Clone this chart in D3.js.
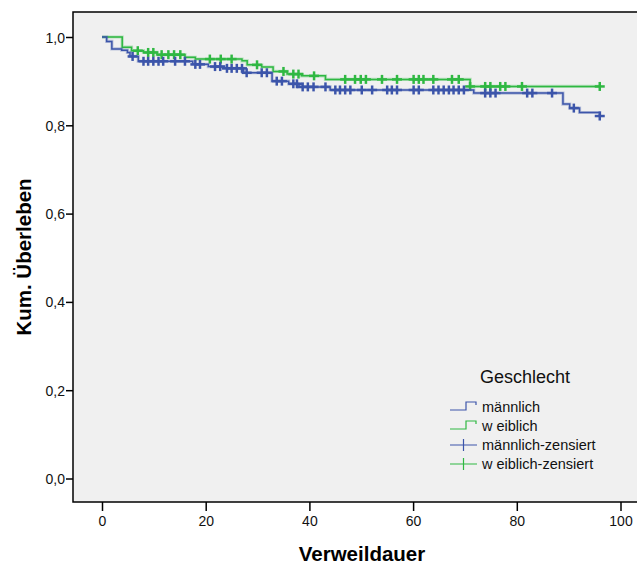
<!DOCTYPE html>
<html>
<head>
<meta charset="utf-8">
<script src="https://cdn.jsdelivr.net/npm/d3@7"></script>
<style>
  body { margin: 0; background: #fff; }
  svg { display: block; font-family: "Liberation Sans", Arial, sans-serif; }
</style>
</head>
<body>
<div id="chart"></div>
<script>
var svgWidth = 637;
var svgHeight = 565;

// Kaplan-Meier steps: time of drop and survival after drop
var maleTimes = [0.9, 1.9, 3.8, 4.9, 5.4, 7.0, 17.5, 20.5, 23.5, 27.3, 32.8, 36.0, 38.0, 44.0, 71.7, 88.9, 90.2, 92.1, 96.0];
var maleSurv  = [0.990, 0.973, 0.970, 0.965, 0.956, 0.945, 0.938, 0.933, 0.929, 0.919, 0.900, 0.894, 0.887, 0.880, 0.873, 0.848, 0.839, 0.829, 0.821];
var maleEnd = 96;
var maleCensored = [5.9, 8.0, 8.9, 9.9, 10.9, 11.8, 14.1, 16.0, 18.0, 18.9, 21.8, 22.8, 24.1, 25.0, 26.0, 27.0,
  27.9, 30.8, 31.8, 33.7, 34.7, 36.9, 37.6, 38.7, 39.7, 40.8, 43.1, 45.0, 45.9, 46.9, 47.9, 50.1, 52.1,
  55.0, 55.9, 56.9, 60.1, 61.1, 63.9, 64.9, 65.9, 66.9, 67.8, 68.8, 69.8, 73.9, 74.9, 75.9, 82.0, 83.0,
  86.8, 91.0, 96.0];

var femaleTimes = [3.9, 5.7, 8.0, 10.6, 16.0, 18.0, 27.0, 28.0, 30.8, 33.0, 35.7, 38.5, 43.1, 71.0];
var femaleSurv  = [0.977, 0.969, 0.965, 0.960, 0.954, 0.950, 0.946, 0.937, 0.932, 0.922, 0.916, 0.912, 0.904, 0.888];
var femaleEnd = 96;
var femaleCensored = [6.9, 8.9, 9.9, 11.5, 12.8, 13.9, 15.1, 20.8, 22.9, 25.0, 29.9, 35.0, 36.9, 37.9, 40.9,
  46.9, 48.8, 49.9, 50.9, 54.0, 56.9, 60.1, 61.1, 62.0, 63.9, 67.5, 68.8, 71.0, 73.9, 74.9, 76.8, 77.8,
  81.0, 96.0];

var xTicks = [0, 20, 40, 60, 80, 100];
var yTicks = [0, 0.2, 0.4, 0.6, 0.8, 1.0];
var legendLabels = ["männlich", "w eiblich", "männlich-zensiert", "w eiblich-zensiert"];

var blue = "#3c55aa";
var green = "#2fb842";

var plot = { left: 73, top: 12, bottom: 502, right: 645 };

var svg = d3.select("#chart").append("svg")
  .attr("width", svgWidth)
  .attr("height", svgHeight);

var x = d3.scaleLinear().domain([0, 100]).range([102, 620.5]);
var y = d3.scaleLinear().domain([0, 1]).range([478.5, 37]);

svg.append("rect")
  .attr("x", plot.left).attr("y", plot.top)
  .attr("width", plot.right - plot.left).attr("height", plot.bottom - plot.top)
  .attr("fill", "#f0f0f0");

function stepPoints(times, surv, end) {
  var pts = [[0, 1]];
  times.forEach(function(t, i) { pts.push([t, surv[i]]); });
  pts.push([end, surv[surv.length - 1]]);
  return pts;
}

function survAt(times, surv, t) {
  var s = 1;
  times.forEach(function(tt, i) { if (tt <= t) s = surv[i]; });
  return s;
}

var line = d3.line()
  .x(d => x(d[0]))
  .y(d => y(d[1]))
  .curve(d3.curveStepAfter);

function drawGroup(times, surv, end, censored, color) {
  var pts = stepPoints(times, surv, end);
  svg.append("path").datum(pts)
    .attr("d", line).attr("fill", "none")
    .attr("stroke", color).attr("stroke-width", 3.2).attr("opacity", 0.3);
  svg.append("path").datum(pts)
    .attr("d", line).attr("fill", "none")
    .attr("stroke", color).attr("stroke-width", 1.5);

  var g = svg.append("g").attr("stroke", color).attr("stroke-width", 2.5);
  censored.forEach(function(t) {
    var cx = x(t), cy = y(survAt(times, surv, t));
    g.append("line").attr("x1", cx - 5).attr("x2", cx + 5).attr("y1", cy).attr("y2", cy);
    g.append("line").attr("x1", cx).attr("x2", cx).attr("y1", cy - 4.5).attr("y2", cy + 4.5);
  });
}

drawGroup(femaleTimes, femaleSurv, femaleEnd, femaleCensored, green);
drawGroup(maleTimes, maleSurv, maleEnd, maleCensored, blue);

// frame
svg.append("path")
  .attr("d", `M${plot.right},${plot.top}H${plot.left}V${plot.bottom}H${plot.right}`)
  .attr("fill", "none").attr("stroke", "#000").attr("stroke-width", 1.5);

// axes
var yAxis = svg.append("g")
  .attr("transform", `translate(${plot.left},0)`)
  .call(d3.axisLeft(y).tickValues(yTicks).tickSize(7).tickSizeOuter(0)
    .tickFormat(d => d3.format(".1f")(d).replace(".", ",")));
var xAxis = svg.append("g")
  .attr("transform", `translate(0,${plot.bottom})`)
  .call(d3.axisBottom(x).tickValues(xTicks).tickSize(9).tickSizeOuter(0));

[xAxis, yAxis].forEach(function(ax) {
  ax.select(".domain").remove();
  ax.selectAll(".tick line").attr("stroke", "#000").attr("stroke-width", 1.5);
  ax.selectAll(".tick text").attr("fill", "#111")
    .style("font-family", "'Liberation Sans', Arial, sans-serif").style("font-size", "14px");
});
yAxis.selectAll(".tick text").attr("x", -8).attr("dy", "0.36em");
xAxis.selectAll(".tick text").attr("y", 14);

// axis titles
svg.append("text")
  .attr("transform", "translate(31,257) rotate(-90)")
  .attr("text-anchor", "middle")
  .style("font-size", "20.5px").style("font-weight", "bold")
  .text("Kum. Überleben");

svg.append("text")
  .attr("x", 362).attr("y", 561)
  .attr("text-anchor", "middle")
  .style("font-size", "20.5px").style("font-weight", "bold")
  .text("Verweildauer");

// legend
var legend = svg.append("g");
legend.append("text")
  .attr("x", 480).attr("y", 383)
  .style("font-size", "18px").attr("fill", "#111")
  .text("Geschlecht");

var legendColors = [blue, green, blue, green];
legendLabels.forEach(function(label, i) {
  var ly = 407 + i * 19;
  if (i < 2) {
    legend.append("path")
      .attr("d", `M450,${ly + 3}H466V${ly - 5}H476V${ly - 2}`)
      .attr("fill", "none").attr("stroke", legendColors[i]).attr("stroke-width", 1.2);
  } else {
    legend.append("path")
      .attr("d", `M450,${ly}H477M463.5,${ly - 6}V${ly + 6}`)
      .attr("fill", "none").attr("stroke", legendColors[i]).attr("stroke-width", 1.2);
  }
  legend.append("text")
    .attr("x", 482).attr("y", ly + 5)
    .style("font-size", "14.5px").attr("fill", "#111")
    .text(label);
});
</script>
</body>
</html>
